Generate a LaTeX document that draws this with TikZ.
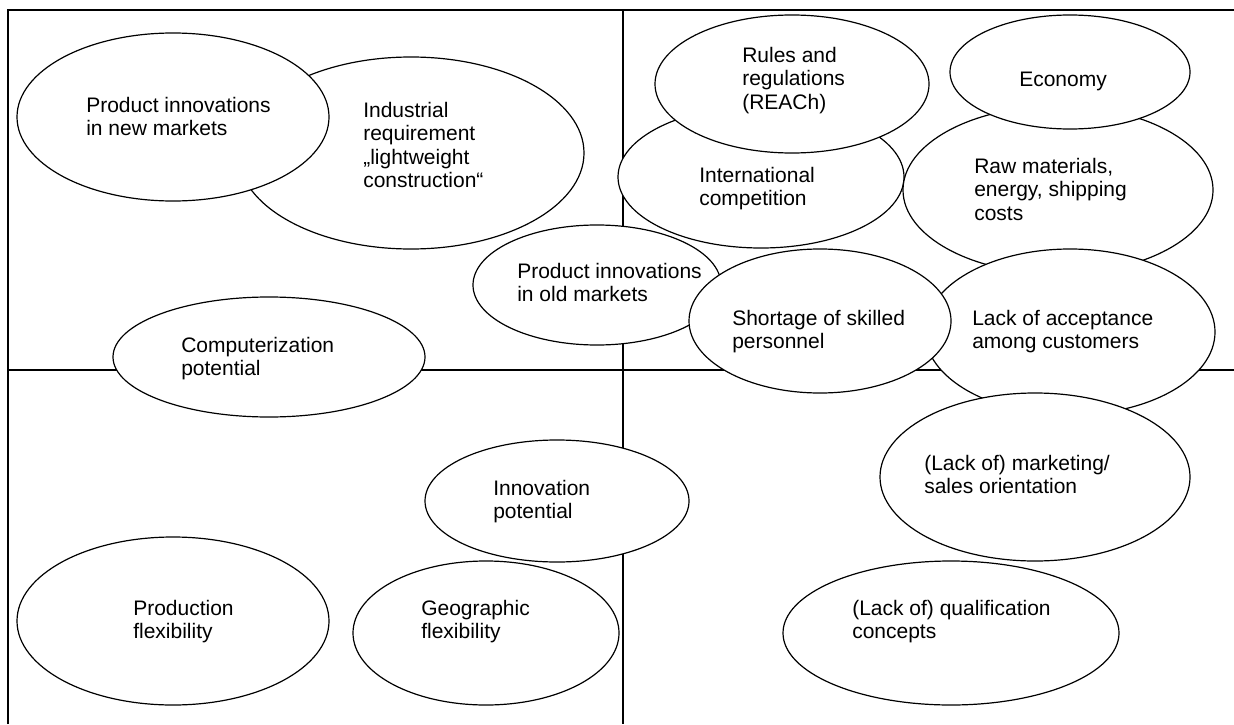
\documentclass[tikz,border=0pt]{standalone}
\usepackage{fontspec}
\setmainfont{Liberation Sans}
\usetikzlibrary{shapes.geometric}
\tikzset{
  frameline/.style={line width=1.1pt},
  el/.style={ellipse, draw, fill=white, line width=0.9pt, inner sep=0pt},
  lbl/.style={anchor=base west, align=left, inner sep=0pt, font=\fontsize{15.75}{17.6}\selectfont}
}
\begin{document}
\begin{tikzpicture}[x=0.75pt,y=-0.75pt]
\useasboundingbox[fill=white] (0,0) rectangle (1234,724);
% frame
\coordinate (tl) at (8,10);
\coordinate (tr) at (1234,10);
\coordinate (bl) at (8,724);
\coordinate (vt) at (623,10);
\coordinate (vb) at (623,724);
\coordinate (hl) at (8,370);
\coordinate (hr) at (1234,370);
\draw[frameline] (bl) -- (tl) -- (tr);
\draw[frameline] (vt) -- (vb);
\draw[frameline] (hl) -- (hr);
% ellipses, back to front
\node[el, minimum width=259.5pt, minimum height=144pt] (ind) at (411,153) {};
\node[el, minimum width=234pt, minimum height=126pt] (pinm) at (173,117) {};
\node[el, minimum width=234pt, minimum height=90pt] (comp) at (269,357) {};
\node[el, minimum width=198pt, minimum height=91.5pt] (innov) at (557,501) {};
\node[el, minimum width=199.5pt, minimum height=108pt] (geo) at (486,633) {};
\node[el, minimum width=234pt, minimum height=126pt] (prod) at (173,621) {};
\node[el, minimum width=186pt, minimum height=90pt] (piom) at (597,285) {};
\node[el, minimum width=214.5pt, minimum height=106.5pt] (intl) at (761,177) {};
\node[el, minimum width=205.5pt, minimum height=103.5pt] (rules) at (792,84) {};
\node[el, minimum width=232.5pt, minimum height=126pt] (raw) at (1058,190) {};
\node[el, minimum width=180pt, minimum height=85.5pt] (econ) at (1070,72) {};
\node[el, minimum width=217.5pt, minimum height=124.5pt] (lack) at (1070,332) {};
\node[el, minimum width=196.5pt, minimum height=108pt] (short) at (820,321) {};
\node[el, minimum width=232.5pt, minimum height=126pt] (mkt) at (1035,477) {};
\node[el, minimum width=252pt, minimum height=108pt] (qual) at (951,633) {};
% labels (anchor at baseline of last line)
\node[lbl] (tpinm) at (86,135.5) {Product innovations\\in new markets};
\node[lbl] (tind) at (363,187.5) {Industrial\\requirement\\„lightweight\\construction“};
\node[lbl] (tcomp) at (181,375.5) {Computerization\\potential};
\node[lbl] (tpiom) at (517,301.5) {Product innovations\\in old markets};
\node[lbl] (trules) at (742,109) {Rules and\\regulations\\(REACh)};
\node[lbl] (tecon) at (1019,87) {Economy};
\node[lbl] (tintl) at (699,205.5) {International\\competition};
\node[lbl] (traw) at (974,220) {Raw materials,\\energy, shipping\\costs};
\node[lbl] (tshort) at (732,348.5) {Shortage of skilled\\personnel};
\node[lbl] (tlack) at (972,348.5) {Lack of acceptance\\among customers};
\node[lbl] (tmkt) at (924,493.5) {(Lack of) marketing/\\sales orientation};
\node[lbl] (tqual) at (852,638.5) {(Lack of) qualification\\concepts};
\node[lbl] (tinnov) at (493,518.5) {Innovation\\potential};
\node[lbl] (tprod) at (133,638.5) {Production\\flexibility};
\node[lbl] (tgeo) at (421,638.5) {Geographic\\flexibility};
\end{tikzpicture}
\end{document}
